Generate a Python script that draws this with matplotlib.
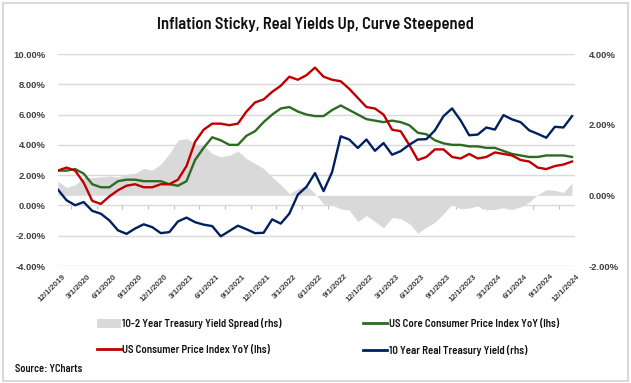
import matplotlib
matplotlib.use("Agg")
import matplotlib.pyplot as plt
from matplotlib.patches import Patch, Rectangle
from matplotlib.lines import Line2D
import matplotlib.transforms as mtransforms
from matplotlib.ticker import FuncFormatter

# ---------------- data (monthly, Dec-2019 .. Dec-2024) ----------------
tick_labels = ['12/1/2019', '3/1/2020', '6/1/2020', '9/1/2020', '12/1/2020',
               '3/1/2021', '6/1/2021', '9/1/2021', '12/1/2021',
               '3/1/2022', '6/1/2022', '9/1/2022', '12/1/2022',
               '3/1/2023', '6/1/2023', '9/1/2023', '12/1/2023',
               '3/1/2024', '6/1/2024', '9/1/2024', '12/1/2024']

cpi = [2.3, 2.5, 2.3, 1.5, 0.3, 0.1, 0.6, 1.0, 1.3, 1.4, 1.2, 1.2, 1.4, 1.4, 1.7,
       2.6, 4.2, 5.0, 5.4, 5.4, 5.3, 5.4, 6.2, 6.8, 7.0, 7.5, 7.9, 8.5, 8.3, 8.6,
       9.1, 8.5, 8.3, 8.2, 7.7, 7.1, 6.5, 6.4, 6.0, 5.0, 4.9, 4.0, 3.0, 3.2, 3.7,
       3.7, 3.2, 3.1, 3.4, 3.1, 3.2, 3.5, 3.4, 3.3, 3.0, 2.9, 2.5, 2.4, 2.6, 2.7, 2.9]

core_cpi = [2.3, 2.3, 2.4, 2.1, 1.4, 1.2, 1.2, 1.6, 1.7, 1.7, 1.6, 1.6, 1.6, 1.4, 1.3,
            1.6, 3.0, 3.8, 4.5, 4.3, 4.0, 4.0, 4.6, 4.9, 5.5, 6.0, 6.4, 6.5, 6.2, 6.0,
            5.9, 5.9, 6.3, 6.6, 6.3, 6.0, 5.7, 5.6, 5.5, 5.6, 5.5, 5.3, 4.8, 4.7, 4.3,
            4.1, 4.0, 4.0, 3.9, 3.9, 3.8, 3.8, 3.6, 3.4, 3.3, 3.2, 3.2, 3.3, 3.3, 3.3, 3.2]

real_yield = [0.16, -0.14, -0.28, -0.19, -0.44, -0.52, -0.71, -0.99, -1.09, -0.94,
              -0.82, -0.90, -1.07, -1.04, -0.74, -0.63, -0.76, -0.83, -0.87, -1.16,
              -1.01, -0.86, -0.96, -1.07, -1.06, -0.68, -0.80, -0.52, 0.02, 0.24,
              0.63, 0.12, 0.66, 1.67, 1.58, 1.34, 1.58, 1.26, 1.48, 1.15,
              1.25, 1.43, 1.58, 1.59, 1.84, 2.24, 2.46, 2.12, 1.70, 1.72,
              1.92, 1.86, 2.27, 2.15, 2.07, 1.84, 1.74, 1.63, 1.94, 1.92, 2.24]

spread_10_2 = [0.40, 0.22, 0.30, 0.50, 0.50, 0.52, 0.55, 0.52, 0.60, 0.62,
               0.76, 0.71, 0.88, 1.18, 1.56, 1.61, 1.46, 1.42, 1.18, 1.09,
               1.13, 1.25, 1.04, 0.90, 0.76, 0.52, 0.30, 0.05, 0.19, 0.28,
               0.05, -0.24, -0.28, -0.38, -0.42, -0.74, -0.57, -0.74, -0.92, -0.63,
               -0.66, -0.80, -1.07, -0.90, -0.76, -0.52, -0.25, -0.38, -0.36, -0.30,
               -0.41, -0.40, -0.35, -0.40, -0.33, -0.19, 0.02, 0.16, 0.14, 0.08, 0.35]

months = list(range(len(cpi)))
tick_pos = months[::3]

# ---------------- style ----------------
RED = '#C00000'
GREEN = '#2E6B22'
NAVY = '#002060'
GRAY = '#D9D9D9'
GRID = '#D9D9D9'
TXT = '#404040'
NARROW = ['Barlow Semi Condensed', 'DejaVu Sans']
plt.rcParams['font.family'] = ['Liberation Sans', 'DejaVu Sans']

W, H = 631, 383
fig = plt.figure(figsize=(W / 100, H / 100), dpi=100)

# outer light frame
fig.patches.append(Rectangle((0.004, 0.006), 0.992, 0.986, transform=fig.transFigure,
                             fill=False, edgecolor='#D9D9D9', linewidth=1.5))

L, R, T, B = 58, 575, 54, 266
ax = fig.add_axes([L / W, 1 - B / H, (R - L) / W, (B - T) / H])
ax2 = ax.twinx()

ax.set_xlim(0, 60.35)
ax.set_ylim(-4, 10)
ax2.set_ylim(-2, 4)

# gridlines (left axis)
ax.set_yticks([-4, -2, 0, 2, 4, 6, 8, 10])
ax.yaxis.grid(True, color=GRID, linewidth=1.0, zorder=0)
ax.set_axisbelow(True)
ax2.set_yticks([-2, 0, 2, 4])

LW = 1.7
# spread area (rhs) drawn below the lhs lines
ax.fill_between(months, 0, spread_10_2, color=GRAY, linewidth=0, zorder=1,
                transform=ax2.transData)
ax.plot(months, core_cpi, color=GREEN, linewidth=LW, zorder=3,
        solid_joinstyle='round')
ax.plot(months, cpi, color=RED, linewidth=LW, zorder=3, solid_joinstyle='round')
ax2.plot(months, real_yield, color=NAVY, linewidth=LW, zorder=3,
         solid_joinstyle='round')

for a in (ax, ax2):
    for s in a.spines.values():
        s.set_visible(False)

pct = FuncFormatter(lambda v, p: f'{v:.2f}%')
ax.yaxis.set_major_formatter(pct)
ax2.yaxis.set_major_formatter(pct)
ax.tick_params(axis='y', length=0, pad=9, labelsize=6.8, labelcolor=TXT)
ax2.tick_params(axis='y', length=0, pad=10, labelsize=6.8, labelcolor=TXT)
for lab in ax.get_yticklabels() + ax2.get_yticklabels():
    lab.set_fontweight('bold')

ax.set_xticks(tick_pos)
ax.set_xticklabels(tick_labels, rotation=45, ha='right', va='top',
                   rotation_mode='anchor', fontsize=5.8, color=TXT, fontweight='bold')
ax.tick_params(axis='x', length=0, pad=5)
offset = mtransforms.ScaledTranslation(4 / 100, 0, fig.dpi_scale_trans)
for lab in ax.get_xticklabels():
    lab.set_transform(lab.get_transform() + offset)

# small category tick marks on the zero line
sec = ax.secondary_xaxis(4 / 14)
sec.set_xticks([p + 1.5 for p in tick_pos[:-1]])
sec.tick_params(axis='x', length=3, width=0.8, color='#BFBFBF', labelbottom=False,
                direction='out')
sec.set_xticklabels([])
for s in sec.spines.values():
    s.set_visible(False)

# title
fig.text(0.5, 1 - 24 / H, 'Inflation Sticky, Real Yields Up, Curve Steepened',
         ha='center', va='center', fontsize=11.9, fontweight='semibold',
         family=NARROW, color='#111111')

# legend
handles = [Patch(facecolor=GRAY, edgecolor='none'),
           Line2D([], [], color=RED, linewidth=2),
           Line2D([], [], color=GREEN, linewidth=2),
           Line2D([], [], color=NAVY, linewidth=2)]
labels = ['10-2 Year Treasury Yield Spread (rhs)',
          'US Consumer Price Index YoY (lhs)',
          'US Core Consumer Price Index YoY (lhs)',
          '10 Year Real Treasury Yield (rhs)']
leg = fig.legend(handles, labels, ncol=2, loc='upper left',
                 bbox_to_anchor=(97 / W, 1 - 318 / H), frameon=False,
                 prop={'family': NARROW, 'weight': 'semibold', 'size': 7.8},
                 handlelength=2.2, handleheight=0.85, handletextpad=0.15,
                 columnspacing=7.5, labelspacing=1.45, borderaxespad=0, borderpad=0)
for t in leg.get_texts():
    t.set_color('#111111')

fig.text(15 / W, 1 - 369 / H, 'Source: YCharts', ha='left', va='center',
         fontsize=7.5, fontweight='semibold', family=NARROW, color='#111111')

fig.savefig('out.png', dpi=100)
